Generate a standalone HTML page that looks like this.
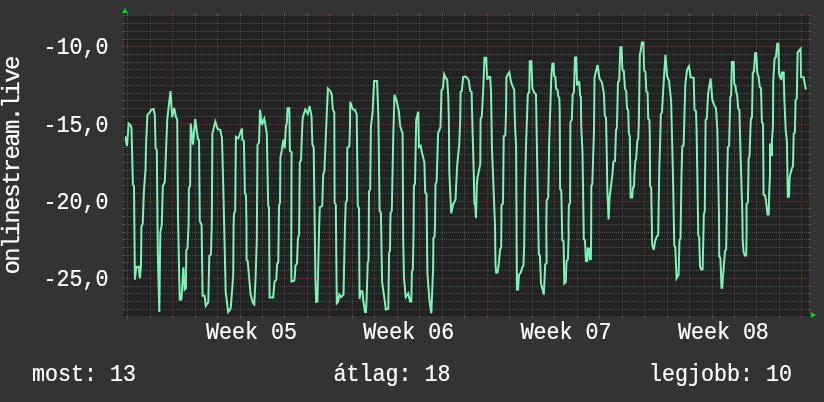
<!DOCTYPE html><html><head><meta charset="utf-8"><style>html,body{margin:0;padding:0;background:#333333;width:824px;height:402px;overflow:hidden}svg{display:block;will-change:transform}text{font-family:"Liberation Mono",monospace;fill:#ffffff;stroke:#ffffff;stroke-width:0.2px}</style></head><body>
<svg width="824" height="402" viewBox="0 0 824 402">
<rect x="0" y="0" width="824" height="402" fill="#333333"/>
<rect x="125" y="15" width="684" height="300" fill="#222222"/>
<clipPath id="c"><rect x="125" y="15" width="684" height="300"/></clipPath>
<path d="M125.0 136.0 L127.0 146.0 L128.7 123.5 L130.5 125.0 L131.5 128.0 L132.9 184.8 L134.0 186.0 L134.9 279.7 L136.2 267.2 L138.7 266.7 L139.9 278.4 L141.0 265.0 L141.4 226.5 L142.7 224.0 L143.9 191.2 L145.5 170.0 L146.1 143.5 L147.4 114.9 L149.4 112.9 L151.1 109.9 L153.6 109.1 L154.8 114.9 L155.6 148.4 L156.8 149.7 L157.8 252.3 L159.3 312.0 L160.3 232.4 L161.8 224.6 L162.8 186.0 L164.8 182.3 L167.3 118.6 L170.5 91.2 L172.2 117.3 L174.2 107.9 L176.0 117.3 L177.2 119.3 L178.0 216.0 L179.7 299.6 L181.4 299.6 L183.4 267.2 L184.7 289.6 L185.9 288.4 L186.3 250.0 L187.5 248.5 L188.6 225.0 L188.9 188.3 L190.1 186.0 L190.7 123.4 L193.0 144.7 L195.2 119.0 L197.9 139.0 L199.0 140.2 L199.8 221.0 L201.6 225.0 L202.6 295.8 L204.6 295.8 L205.8 305.8 L208.3 302.0 L209.3 256.0 L210.9 254.5 L211.8 225.0 L212.4 133.5 L215.3 121.6 L217.6 129.0 L220.3 130.0 L222.0 138.0 L223.6 200.0 L225.7 292.1 L228.2 312.0 L230.7 308.3 L233.2 276.0 L233.6 225.0 L234.0 213.6 L235.2 211.0 L235.9 136.8 L238.2 138.5 L241.9 128.5 L242.4 139.7 L243.9 141.0 L244.9 193.5 L246.0 195.0 L246.5 225.0 L246.6 260.0 L247.7 261.0 L250.6 294.6 L253.1 303.3 L254.3 304.6 L255.6 277.2 L256.8 239.9 L257.5 145.0 L259.0 142.5 L260.0 109.9 L261.8 124.8 L264.3 118.6 L266.8 133.5 L268.2 206.0 L269.0 207.5 L269.6 297.5 L273.2 297.5 L274.5 281.6 L276.2 279.8 L277.1 264.2 L278.3 262.4 L278.9 215.0 L279.1 205.0 L280.0 203.0 L280.4 157.5 L281.7 150.9 L283.4 139.7 L284.7 148.4 L286.0 125.7 L286.8 124.0 L287.5 108.3 L289.3 108.3 L289.9 150.9 L291.6 152.2 L291.2 260.0 L291.5 281.6 L294.0 281.0 L294.7 278.5 L295.4 265.9 L297.0 263.5 L297.9 238.6 L299.1 234.6 L299.8 162.0 L301.0 160.5 L302.3 125.0 L302.8 117.3 L305.3 109.4 L307.8 113.7 L309.6 106.1 L311.5 116.0 L312.4 144.5 L313.7 147.5 L315.4 278.4 L316.2 302.0 L317.4 301.6 L317.9 279.7 L319.2 225.0 L319.8 207.3 L322.2 206.0 L323.2 175.0 L324.4 171.1 L326.1 129.6 L327.9 88.6 L330.3 91.0 L331.8 94.8 L332.8 109.7 L334.3 112.2 L334.6 203.0 L335.8 204.5 L336.8 303.3 L338.0 302.0 L339.3 294.6 L341.0 297.1 L343.5 294.6 L345.0 225.0 L345.8 202.0 L347.0 200.5 L347.3 148.0 L349.4 146.1 L350.0 125.0 L350.2 101.7 L352.7 109.2 L354.7 109.7 L356.7 114.2 L357.8 206.0 L359.0 208.0 L359.5 299.0 L360.7 291.2 L362.4 291.2 L363.3 300.7 L365.0 312.0 L366.0 312.0 L366.8 293.8 L367.7 262.4 L368.5 260.7 L368.8 225.0 L369.0 191.5 L370.2 189.5 L370.9 127.1 L372.6 112.2 L374.1 81.1 L377.1 81.1 L378.4 117.2 L379.6 211.0 L380.9 212.5 L382.1 282.2 L384.6 299.6 L385.8 309.5 L388.3 309.0 L389.1 252.3 L390.0 251.0 L390.3 225.0 L390.6 212.5 L391.8 211.0 L393.3 134.6 L394.5 94.8 L397.0 102.2 L399.0 112.2 L400.0 125.0 L401.7 131.2 L402.6 133.0 L403.2 240.0 L404.0 278.4 L405.7 297.1 L408.2 293.4 L410.1 301.6 L411.3 301.6 L411.9 271.5 L412.8 270.0 L413.6 230.0 L413.9 185.5 L415.0 184.0 L416.2 119.7 L418.2 111.7 L418.9 147.0 L420.6 145.8 L421.9 152.4 L424.4 162.4 L425.2 192.4 L426.5 194.0 L427.4 273.5 L429.4 299.6 L431.3 313.3 L433.1 269.7 L433.4 238.0 L434.6 236.8 L435.0 225.0 L435.5 184.0 L436.6 182.0 L438.1 133.3 L440.5 127.1 L441.5 90.0 L442.8 89.0 L444.2 74.4 L445.8 77.9 L447.2 79.6 L448.2 95.0 L448.9 120.0 L449.3 172.3 L451.2 213.4 L453.0 204.7 L455.5 199.7 L457.2 164.9 L459.2 145.0 L460.2 120.0 L460.6 91.8 L461.8 91.0 L463.2 77.0 L465.8 76.5 L467.6 78.7 L468.8 80.5 L470.2 91.0 L471.6 91.8 L472.3 120.0 L473.8 175.0 L474.4 203.6 L475.2 205.0 L476.0 218.0 L476.8 185.0 L477.5 178.0 L480.3 163.6 L480.6 118.6 L481.8 116.7 L483.3 88.3 L484.5 57.8 L486.2 57.8 L487.3 79.6 L488.5 77.0 L490.2 77.0 L491.0 91.0 L492.0 150.0 L495.0 225.0 L495.5 264.8 L496.2 272.7 L497.5 272.5 L498.7 264.8 L500.0 249.8 L501.2 247.3 L501.5 205.0 L503.0 203.6 L503.7 136.2 L505.3 135.5 L506.1 110.0 L506.4 77.3 L507.9 74.3 L509.4 72.3 L511.1 82.3 L513.0 87.2 L514.2 90.0 L514.6 110.0 L515.2 130.0 L516.1 144.9 L516.9 289.4 L518.1 289.4 L519.0 274.6 L520.7 272.9 L522.5 266.8 L523.4 266.0 L524.2 245.0 L524.8 192.2 L526.1 143.7 L527.8 94.2 L529.2 92.2 L529.8 61.3 L531.3 61.3 L532.4 88.3 L534.3 92.7 L536.0 94.7 L537.3 169.8 L538.8 254.2 L539.9 255.5 L541.0 283.4 L543.8 294.6 L545.2 264.6 L546.6 262.9 L546.3 225.0 L546.7 200.0 L548.2 198.0 L549.2 142.4 L551.3 76.8 L552.4 63.7 L553.6 63.7 L554.1 75.9 L555.3 76.8 L556.2 89.0 L557.6 89.9 L558.3 96.8 L559.3 97.7 L559.7 110.0 L560.1 189.3 L561.3 190.5 L562.3 240.0 L563.6 241.5 L564.3 283.4 L565.8 282.0 L566.5 261.1 L567.9 259.4 L568.7 235.0 L568.5 225.0 L568.9 205.0 L570.1 203.0 L570.4 122.0 L571.8 120.0 L572.7 94.2 L573.9 92.5 L575.0 57.6 L576.2 57.6 L577.1 85.5 L578.5 82.0 L579.2 82.0 L580.2 96.0 L580.9 96.8 L581.2 125.0 L582.5 152.4 L583.8 239.3 L585.0 240.0 L585.9 261.0 L587.2 261.0 L587.8 248.6 L589.0 248.6 L589.9 259.2 L590.9 259.0 L591.2 225.0 L591.3 186.0 L592.3 184.0 L594.0 130.0 L594.5 77.3 L597.5 64.9 L599.5 78.5 L601.9 82.3 L603.9 93.5 L604.8 116.0 L606.0 117.5 L606.5 140.0 L607.4 192.2 L608.6 219.5 L609.6 197.1 L611.9 178.5 L612.4 175.0 L613.4 161.7 L615.0 161.0 L616.0 130.0 L616.9 128.3 L618.0 82.0 L619.2 81.0 L620.3 47.2 L621.5 47.2 L622.4 69.8 L623.8 70.7 L625.0 89.0 L626.2 90.8 L627.0 108.7 L628.2 110.0 L628.9 133.5 L629.8 136.0 L630.6 197.5 L632.2 197.5 L633.0 187.4 L634.0 186.8 L634.4 175.0 L635.4 160.5 L636.1 159.8 L637.3 141.2 L638.2 139.0 L638.8 125.0 L639.8 54.9 L640.5 52.0 L641.9 42.4 L643.4 42.4 L644.2 70.7 L645.4 71.6 L646.4 91.6 L647.6 92.5 L648.2 118.6 L649.4 120.0 L649.8 135.0 L650.1 186.2 L651.2 187.5 L652.2 244.9 L653.7 249.8 L655.2 241.0 L656.9 236.2 L658.2 235.0 L659.2 172.3 L660.6 125.0 L660.8 114.0 L662.0 112.5 L663.3 88.5 L665.4 54.9 L667.1 76.0 L669.1 81.0 L671.1 100.9 L672.8 167.3 L674.3 245.5 L675.3 247.0 L676.6 278.4 L678.6 274.7 L679.5 240.0 L680.5 238.5 L681.5 175.0 L682.3 146.1 L683.6 145.5 L685.3 84.8 L687.0 69.8 L689.0 66.1 L690.7 77.3 L693.7 77.8 L694.5 110.0 L696.0 111.2 L696.6 130.0 L698.3 235.5 L699.2 237.0 L700.0 266.8 L701.3 269.4 L702.6 269.4 L703.3 240.0 L703.8 215.0 L704.8 210.8 L705.6 120.0 L706.8 118.6 L708.1 93.4 L710.6 78.5 L712.3 99.7 L714.0 104.6 L716.0 108.4 L717.3 130.0 L719.0 215.0 L719.2 256.4 L720.4 258.1 L721.5 287.7 L722.2 287.7 L723.6 268.6 L725.0 251.1 L726.2 249.4 L726.8 215.0 L727.2 175.0 L727.9 147.0 L729.1 146.0 L730.3 97.0 L731.1 96.0 L731.9 62.0 L733.7 62.0 L734.2 83.8 L735.4 85.5 L736.3 92.5 L737.1 94.2 L738.2 108.6 L739.4 110.0 L740.0 135.0 L740.9 166.0 L742.4 215.0 L742.7 240.7 L743.6 252.0 L744.8 255.5 L746.2 255.5 L746.6 230.0 L746.5 204.0 L747.9 202.4 L748.4 175.0 L748.6 158.0 L749.5 156.7 L750.6 125.0 L751.0 118.5 L752.0 117.3 L752.8 72.5 L754.0 71.6 L755.1 53.3 L756.3 53.3 L757.2 72.5 L758.6 76.8 L759.8 87.3 L761.0 88.1 L761.9 122.3 L763.0 123.5 L763.6 194.9 L765.2 195.5 L766.9 208.6 L767.5 214.5 L768.7 214.5 L769.3 190.0 L770.0 175.0 L770.0 143.5 L772.0 156.0 L772.0 140.0 L773.0 125.0 L773.2 82.0 L774.6 58.5 L776.0 56.8 L777.2 43.7 L778.4 43.7 L779.0 73.3 L780.7 78.6 L781.4 79.0 L781.9 72.5 L783.7 72.5 L784.4 100.0 L785.7 130.0 L786.9 141.2 L787.8 196.8 L789.0 196.8 L789.6 178.0 L790.2 174.8 L791.8 168.5 L793.0 166.0 L793.7 133.7 L794.9 132.5 L795.6 100.0 L796.8 98.7 L797.6 52.4 L800.6 48.7 L801.1 77.3 L803.6 77.3 L805.6 88.5 L806.8 88.5" stroke="#78f5b4" stroke-width="2" fill="none" stroke-linejoin="miter" clip-path="url(#c)"/>
<path d="M121 315.5H813M124.5 319V11" stroke="#202020" stroke-width="1" fill="none" shape-rendering="crispEdges"/>
<path d="M123 15.5H125M809 15.5H811M123 23.5H125M809 23.5H811M123 31.5H125M809 31.5H811M123 39.5H125M809 39.5H811M123 54.5H125M809 54.5H811M123 62.5H125M809 62.5H811M123 69.5H125M809 69.5H811M123 77.5H125M809 77.5H811M123 85.5H125M809 85.5H811M123 93.5H125M809 93.5H811M123 100.5H125M809 100.5H811M123 108.5H125M809 108.5H811M123 116.5H125M809 116.5H811M123 131.5H125M809 131.5H811M123 139.5H125M809 139.5H811M123 147.5H125M809 147.5H811M123 154.5H125M809 154.5H811M123 162.5H125M809 162.5H811M123 170.5H125M809 170.5H811M123 178.5H125M809 178.5H811M123 185.5H125M809 185.5H811M123 193.5H125M809 193.5H811M123 208.5H125M809 208.5H811M123 216.5H125M809 216.5H811M123 224.5H125M809 224.5H811M123 232.5H125M809 232.5H811M123 239.5H125M809 239.5H811M123 247.5H125M809 247.5H811M123 255.5H125M809 255.5H811M123 262.5H125M809 262.5H811M123 270.5H125M809 270.5H811M123 286.5H125M809 286.5H811M123 293.5H125M809 293.5H811M123 301.5H125M809 301.5H811M123 309.5H125M809 309.5H811M127.5 13V15M127.5 315V318M150.5 13V15M150.5 315V318M195.5 13V15M195.5 315V318M217.5 13V15M217.5 315V318M240.5 13V15M240.5 315V318M262.5 13V15M262.5 315V318M284.5 13V15M284.5 315V318M307.5 13V15M307.5 315V318M352.5 13V15M352.5 315V318M374.5 13V15M374.5 315V318M397.5 13V15M397.5 315V318M419.5 13V15M419.5 315V318M442.5 13V15M442.5 315V318M464.5 13V15M464.5 315V318M509.5 13V15M509.5 315V318M532.5 13V15M532.5 315V318M554.5 13V15M554.5 315V318M577.5 13V15M577.5 315V318M599.5 13V15M599.5 315V318M622.5 13V15M622.5 315V318M667.5 13V15M667.5 315V318M689.5 13V15M689.5 315V318M712.5 13V15M712.5 315V318M734.5 13V15M734.5 315V318M756.5 13V15M756.5 315V318M779.5 13V15M779.5 315V318" stroke="#ffffff" stroke-opacity="0.19" stroke-width="1" fill="none" shape-rendering="crispEdges"/>
<path d="M124 15.5H809M124 23.5H809M124 31.5H809M124 39.5H809M124 54.5H809M124 62.5H809M124 69.5H809M124 77.5H809M124 85.5H809M124 93.5H809M124 100.5H809M124 108.5H809M124 116.5H809M124 131.5H809M124 139.5H809M124 147.5H809M124 154.5H809M124 162.5H809M124 170.5H809M124 178.5H809M124 185.5H809M124 193.5H809M124 208.5H809M124 216.5H809M124 224.5H809M124 232.5H809M124 239.5H809M124 247.5H809M124 255.5H809M124 262.5H809M124 270.5H809M124 286.5H809M124 293.5H809M124 301.5H809M124 309.5H809" stroke="#ffffff" stroke-opacity="0.19" stroke-width="1" stroke-dasharray="1 1" fill="none" shape-rendering="crispEdges"/>
<path d="M127.5 15V315M150.5 15V315M195.5 15V315M217.5 15V315M240.5 15V315M262.5 15V315M284.5 15V315M307.5 15V315M352.5 15V315M374.5 15V315M397.5 15V315M419.5 15V315M442.5 15V315M464.5 15V315M509.5 15V315M532.5 15V315M554.5 15V315M577.5 15V315M599.5 15V315M622.5 15V315M667.5 15V315M689.5 15V315M712.5 15V315M734.5 15V315M756.5 15V315M779.5 15V315" stroke="#ffffff" stroke-opacity="0.19" stroke-width="1" stroke-dasharray="1 1" fill="none" shape-rendering="crispEdges"/>
<path d="M123 46.5H125M809 46.5H811M123 124.5H125M809 124.5H811M123 201.5H125M809 201.5H811M123 278.5H125M809 278.5H811M172.5 13V15M172.5 315V318M329.5 13V15M329.5 315V318M487.5 13V15M487.5 315V318M644.5 13V15M644.5 315V318M801.5 13V15M801.5 315V318" stroke="#ff5050" stroke-opacity="0.38" stroke-width="1" fill="none" shape-rendering="crispEdges"/>
<path d="M125 46.5H809M125 124.5H809M125 201.5H809M125 278.5H809" stroke="#ff5050" stroke-opacity="0.38" stroke-width="1" stroke-dasharray="1 1" fill="none" shape-rendering="crispEdges"/>
<path d="M172.5 15V315M329.5 15V315M487.5 15V315M644.5 15V315M801.5 15V315" stroke="#ff5050" stroke-opacity="0.38" stroke-width="1" stroke-dasharray="1 1" fill="none" shape-rendering="crispEdges"/>
<path d="M811 312L811 318L816 315Z" fill="#00e000"/>
<path d="M122 13L128 13L125 8Z" fill="#00e000"/>
<g transform="translate(0 54) scale(1 1.105)"><text x="108.5" y="0" font-size="21.66" text-anchor="end" >-10,0</text></g>
<g transform="translate(0 132) scale(1 1.105)"><text x="108.5" y="0" font-size="21.66" text-anchor="end" >-15,0</text></g>
<g transform="translate(0 209) scale(1 1.105)"><text x="108.5" y="0" font-size="21.66" text-anchor="end" >-20,0</text></g>
<g transform="translate(0 286) scale(1 1.105)"><text x="108.5" y="0" font-size="21.66" text-anchor="end" >-25,0</text></g>
<g transform="translate(0 339) scale(1 1.105)"><text x="251.5" y="0" font-size="21.66" text-anchor="middle" >Week 05</text></g>
<g transform="translate(0 339) scale(1 1.105)"><text x="408.8" y="0" font-size="21.66" text-anchor="middle" >Week 06</text></g>
<g transform="translate(0 339) scale(1 1.105)"><text x="566.1" y="0" font-size="21.66" text-anchor="middle" >Week 07</text></g>
<g transform="translate(0 339) scale(1 1.105)"><text x="723.4" y="0" font-size="21.66" text-anchor="middle" >Week 08</text></g>
<g transform="translate(0 381.3) scale(1 1.105)"><text x="32" y="0" font-size="21.66" text-anchor="start" >most: 13</text><text x="333.5" y="0" font-size="21.66" text-anchor="start" >átlag: 18</text><text x="649" y="0" font-size="21.66" text-anchor="start" >legjobb: 10</text></g>
<g transform="translate(18.7 274.5) rotate(-90) scale(1.105 1.105)"><text x="0" y="0" font-size="21.66" text-anchor="start" textLength="198">onlinestream.live</text></g>
</svg></body></html>
